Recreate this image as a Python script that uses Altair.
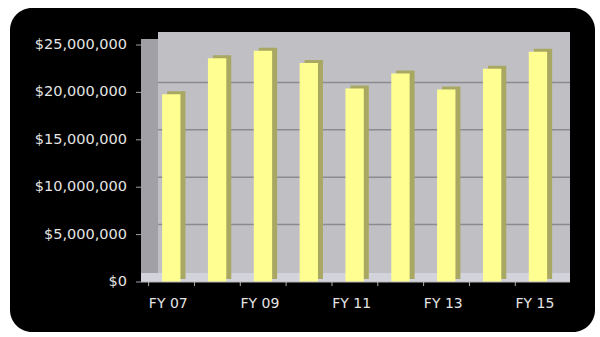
import altair as alt
import pandas as pd

# ---- data ----
years = ["FY 07", "FY 08", "FY 09", "FY 10", "FY 11", "FY 12", "FY 13", "FY 14", "FY 15"]
amounts = [19_800_000, 23_600_000, 24_400_000, 23_100_000, 20_400_000,
           22_000_000, 20_300_000, 22_500_000, 24_300_000]
y_ticks = [0, 5_000_000, 10_000_000, 15_000_000, 20_000_000, 25_000_000]
x_labels = ["FY 07", "FY 09", "FY 11", "FY 13", "FY 15"]

bars_df = pd.DataFrame({"year": years, "amount": amounts})
ytick_df = pd.DataFrame({"amount": y_ticks})
grid_df = pd.DataFrame({"amount": y_ticks[1:-1]})
xlab_df = pd.DataFrame({"year": x_labels})
one = alt.Data(values=[{"k": 1}])

FONT = "DejaVu Sans"
LABEL = "#e4e4e4"
AXIS_GRAY = "#b4b4b8"

W, H = 429, 250
yscale = alt.Scale(domain=[0, 25_000_000], range=[250, 13], nice=False, zero=True)
xscale = alt.Scale(domain=years, paddingInner=0.6, paddingOuter=0.48, align=0.48)

def X(**kw):
    return alt.X("year:N", scale=xscale, sort=years, axis=None, **kw)

def Y():
    return alt.Y("amount:Q", scale=yscale, axis=None)

# decorative frame and 3D walls
frame = alt.Chart(one).mark_rect(color="black", cornerRadius=22).encode(
    x=alt.value(-131), x2=alt.value(454), y=alt.value(-24), y2=alt.value(300))
wall = alt.Chart(one).mark_rect(color="#c0c0c4").encode(
    x=alt.value(17), x2=alt.value(W), y=alt.value(0), y2=alt.value(241))
side = alt.Chart(one).mark_rect(color="#a0a0a6").encode(
    x=alt.value(0), x2=alt.value(17), y=alt.value(7), y2=alt.value(248))
floor = alt.Chart(one).mark_rect(color="#d3d3db").encode(
    x=alt.value(0), x2=alt.value(W), y=alt.value(241), y2=alt.value(250))

grid = alt.Chart(grid_df).mark_rule(color="#8a8a90", strokeWidth=1.5, yOffset=-10).encode(
    y=Y(), x=alt.value(17), x2=alt.value(W))

shadow = alt.Chart(bars_df).mark_bar(color="#a9a862", xOffset=5, yOffset=-3).encode(
    x=X(), y=Y())
front = alt.Chart(bars_df).mark_bar(color="#ffff91").encode(x=X(), y=Y())

# y axis: ticks and labels placed through the y scale
y_tick_marks = alt.Chart(ytick_df).mark_rule(color="#a0a0a4").encode(
    y=Y(), x=alt.value(-5), x2=alt.value(0))
y_tick_labels = alt.Chart(ytick_df).mark_text(
    align="right", baseline="middle", font=FONT, fontSize=14.5, color=LABEL).encode(
    y=Y(), x=alt.value(-14), text=alt.Text("amount:Q", format="$,.0f"))

# x axis: domain line, ticks between categories, every other label
x_domain = alt.Chart(one).mark_rule(color=AXIS_GRAY).encode(
    x=alt.value(0), x2=alt.value(W), y=alt.value(250))
x_tick_marks = alt.Chart(bars_df).mark_rule(color=AXIS_GRAY, xOffset=-13.5).encode(
    x=X(bandPosition=0), y=alt.value(250), y2=alt.value(254))
x_tick_labels = alt.Chart(xlab_df).mark_text(
    align="center", baseline="middle", font=FONT, fontSize=14, color=LABEL, dx=-3).encode(
    x=X(), y=alt.value(272), text="year:N")

chart = alt.layer(frame, wall, side, floor, grid, shadow, front,
                  y_tick_marks, y_tick_labels, x_domain, x_tick_marks, x_tick_labels).properties(
    width=W, height=H, background="white",
    padding={"left": 141, "top": 32, "right": 30, "bottom": 55},
    autosize=alt.AutoSizeParams(type="none"),
).configure_view(fill="transparent", stroke="transparent", strokeWidth=0)

chart.save("out.html", embed_options={"renderer": "svg", "actions": False})
